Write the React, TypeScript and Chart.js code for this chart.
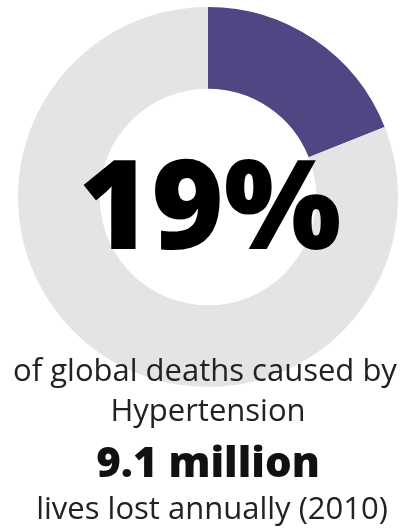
import React, { useEffect, useRef } from "react";
import { Chart, registerables } from "chart.js";

Chart.register(...registerables);

const categories = ["Hypertension", "Other causes"];
const shareValues = [19, 81];
const sliceColors = ["#514684", "#e4e4e4"];
const centerLabel = "19%";
const captionLines = ["of global deaths caused by", "Hypertension"];
const headline = "9.1 million";
const footer = "lives lost annually (2010)";

const textPlugin = {
  id: "infoText",
  afterDraw(chart: any) {
    const ctx = chart.ctx as CanvasRenderingContext2D;
    ctx.save();
    ctx.textAlign = "center";
    ctx.textBaseline = "alphabetic";
    ctx.fillStyle = "#000000";
    ctx.font = "800 124px 'Open Sans'";
    ctx.fillText(centerLabel, 210, 249);
    ctx.fillStyle = "#222222";
    ctx.font = "400 31px 'Open Sans'";
    ctx.fillText(captionLines[0], 205, 381);
    ctx.fillText(captionLines[1], 208, 421);
    ctx.fillStyle = "#111111";
    ctx.font = "800 42px 'Open Sans'";
    ctx.fillText(headline, 208, 477);
    ctx.fillStyle = "#222222";
    ctx.font = "400 31px 'Open Sans'";
    ctx.fillText(footer, 212, 519);
    ctx.restore();
  },
};

export default function App() {
  const ref = useRef<HTMLCanvasElement | null>(null);
  useEffect(() => {
    if (!ref.current) return;
    const chart = new Chart(ref.current, {
      type: "doughnut",
      data: {
        labels: categories,
        datasets: [
          {
            data: shareValues,
            backgroundColor: sliceColors,
            borderWidth: 0,
          },
        ],
      },
      options: {
        animation: false,
        responsive: false,
        maintainAspectRatio: false,
        cutout: "57%",
        layout: { padding: { left: 18, right: 11, top: 7, bottom: 144 } },
        plugins: { legend: { display: false }, tooltip: { enabled: false } },
      },
      plugins: [textPlugin],
    });
    return () => chart.destroy();
  }, []);
  return (
    <div style={{ position: "fixed", left: 0, top: 0, width: 409, height: 531, background: "#fff" }}>
      <canvas ref={ref} width={409} height={531} style={{ width: 409, height: 531 }} />
    </div>
  );
}
